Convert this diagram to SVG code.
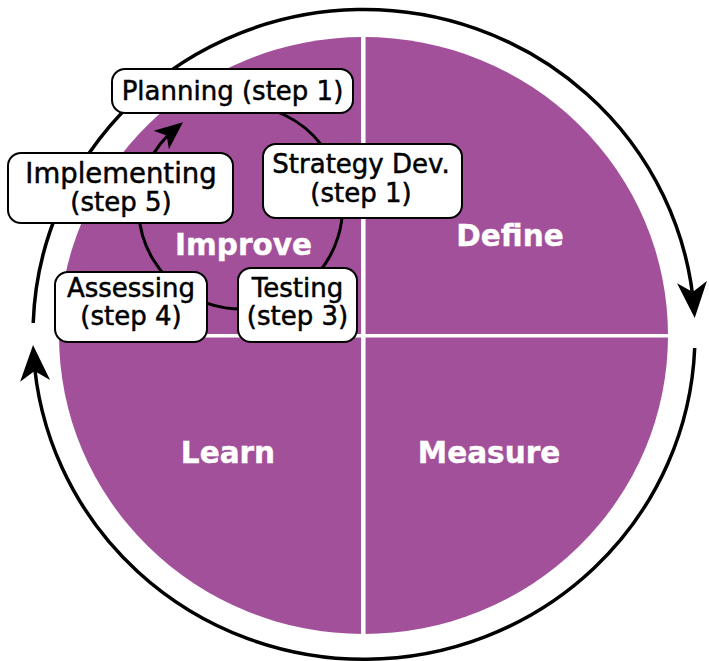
<svg xmlns="http://www.w3.org/2000/svg" width="709" height="661" viewBox="0 0 709 661">
  <style>
    .box rect { fill: #ffffff; stroke: #000000; stroke-width: 2; }
    .box text { font-family: "DejaVu Sans", "Liberation Sans", sans-serif; font-size: 26px; fill: #000000; stroke: #000000; stroke-width: 0.5; text-anchor: middle; }
    .box text.wide { font-size: 27.5px; }
    .quad { font-family: "DejaVu Sans", "Liberation Sans", sans-serif; font-weight: bold; font-size: 29.5px; fill: #ffffff; stroke: #ffffff; stroke-width: 0.4; text-anchor: middle; }
    .cycle { fill: none; stroke: #000000; stroke-width: 3.5; }
    .inner { fill: none; stroke: #000000; stroke-width: 3; }
    .divider { stroke: #ffffff; }
  </style>
  <defs>
    <marker id="bigHead" markerUnits="userSpaceOnUse" markerWidth="40" markerHeight="34" viewBox="0 -17 40 34" refX="28" refY="0" orient="auto">
      <path d="M0,-15 L36,0 L0,15 L10,0 Z" fill="#000000"/>
    </marker>
    <marker id="smallHead" markerUnits="userSpaceOnUse" markerWidth="32" markerHeight="28" viewBox="0 -14 32 28" refX="19" refY="0" orient="auto">
      <path d="M0,-12 L28,0 L0,12 L7,0 Z" fill="#000000"/>
    </marker>
  </defs>

  <!-- purple disc split into four quadrants -->
  <g id="quadrants">
    <ellipse cx="363.5" cy="335.5" rx="304.5" ry="298.5" fill="#a3509b"/>
    <line class="divider" x1="363.3" y1="30" x2="363.3" y2="642" stroke-width="4.5"/>
    <line class="divider" x1="50" y1="335.7" x2="678" y2="335.7" stroke-width="3.5"/>
  </g>

  <g id="labels">
    <text class="quad" x="243.5" y="255">Improve</text>
    <text class="quad" x="510" y="246">Define</text>
    <text class="quad" x="228" y="463">Learn</text>
    <text class="quad" x="489" y="463">Measure</text>
  </g>

  <!-- outer clockwise cycle and inner improvement loop -->
  <g id="connectors">
    <path class="cycle" d="M33.2,323 A331,324.5 0 0 1 694.1,310" marker-end="url(#bigHead)"/>
    <path class="cycle" d="M694.7,348 A331,324.5 0 0 1 33.5,353" marker-end="url(#bigHead)"/>
    <path class="inner" d="M240,105 A102,102 0 1 1 176,128" marker-end="url(#smallHead)"/>
  </g>

  <g id="planning" class="box">
    <rect x="112" y="69" width="241" height="44" rx="13"/>
    <text x="232.5" y="100">Planning (step 1)</text>
  </g>

  <g id="strategy" class="box">
    <rect x="263" y="144" width="199" height="74" rx="13"/>
    <text x="361" y="173">Strategy Dev.</text>
    <text x="361" y="202">(step 1)</text>
  </g>

  <g id="implementing" class="box">
    <rect x="8" y="153" width="225" height="70" rx="13"/>
    <text class="wide" x="121" y="183">Implementing</text>
    <text x="121" y="211">(step 5)</text>
  </g>

  <g id="assessing" class="box">
    <rect x="55" y="272" width="152" height="70" rx="13"/>
    <text x="131" y="297">Assessing</text>
    <text x="131" y="325">(step 4)</text>
  </g>

  <g id="testing" class="box">
    <rect x="238" y="268" width="119" height="74" rx="13"/>
    <text x="297.5" y="297">Testing</text>
    <text x="297.5" y="325">(step 3)</text>
  </g>
</svg>
